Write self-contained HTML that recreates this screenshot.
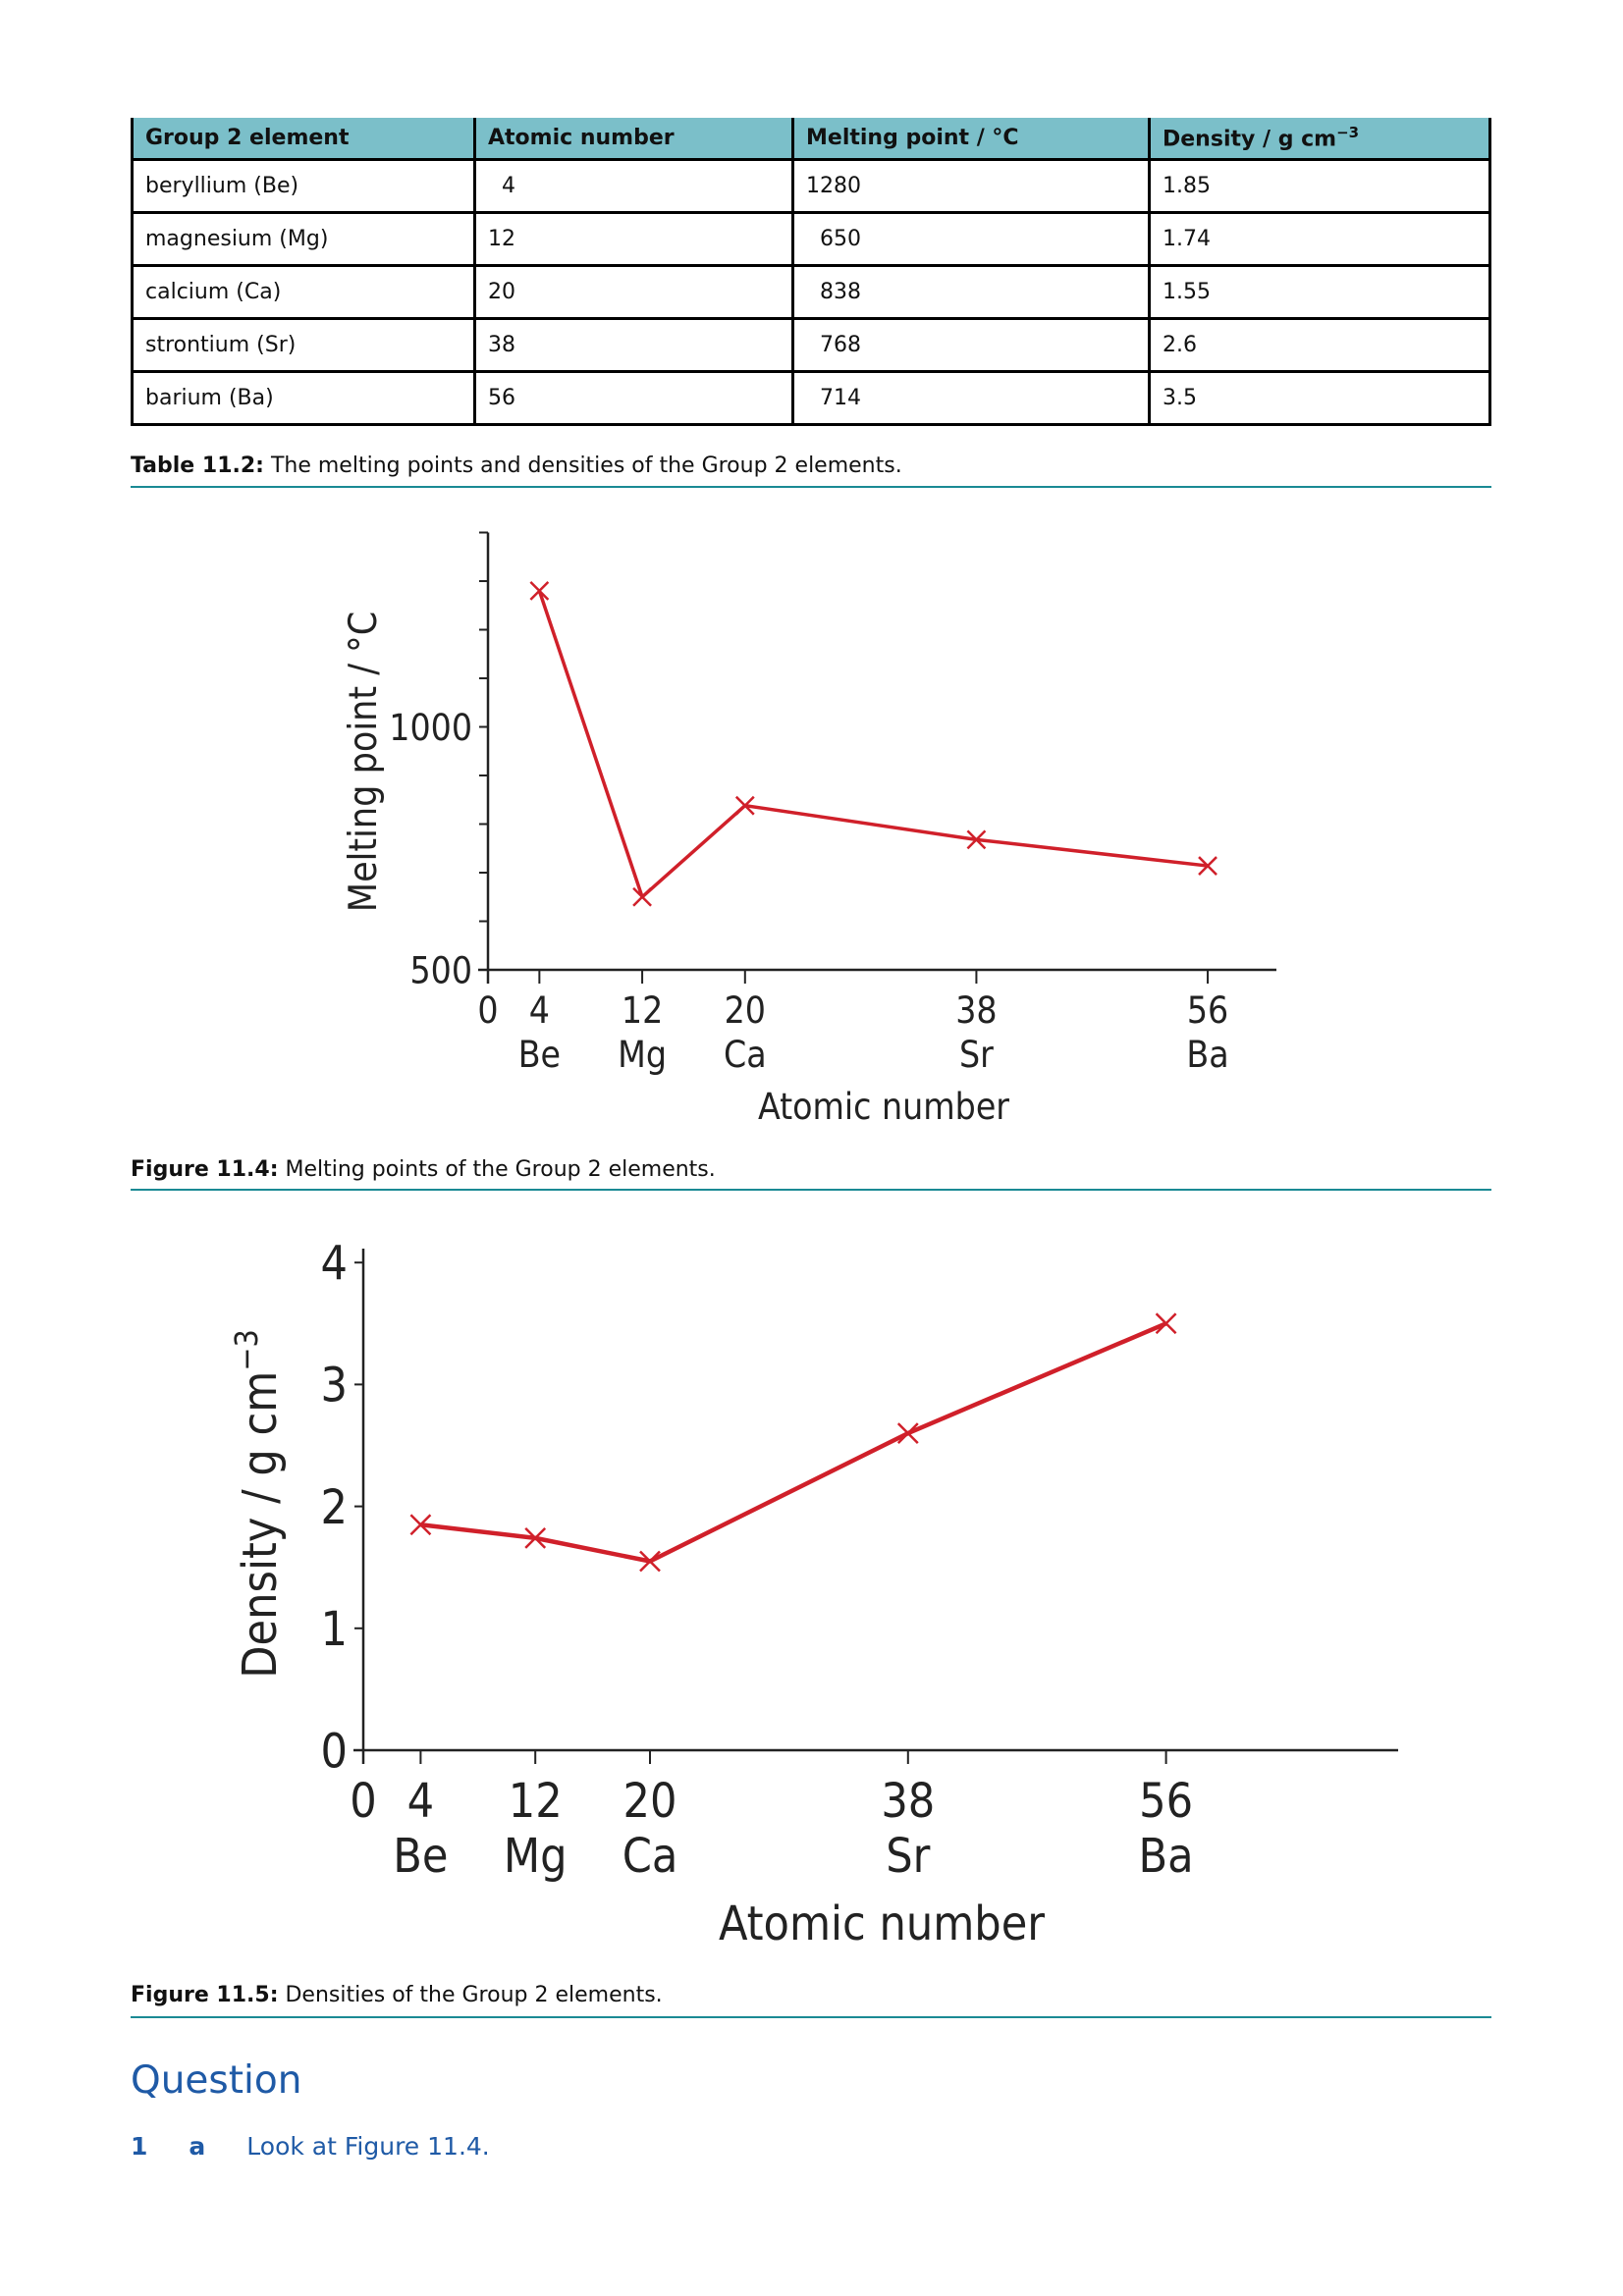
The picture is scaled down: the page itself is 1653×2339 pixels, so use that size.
<!DOCTYPE html>
<html><head><meta charset="utf-8">
<style>
html,body{margin:0;padding:0;background:#fff;}
body{width:1653px;height:2339px;position:relative;overflow:hidden;font-family:"DejaVu Sans","Liberation Sans",sans-serif;}
table{position:absolute;left:133px;top:120px;width:1386px;border-collapse:collapse;table-layout:fixed;font-size:22px;color:#111;}
td,th{border:3px solid #000;height:51px;padding:0 12px;text-align:left;vertical-align:middle;}
th{background:#7bbfc9;font-weight:bold;height:41px;border-top:none;}
.cap{position:absolute;left:133px;font-size:22px;color:#111;}
.rule{position:absolute;left:133px;width:1386px;height:2px;background:#1a8a94;}
svg{position:absolute;left:0;top:0;}
</style></head>
<body>
<table>
<colgroup><col style="width:349px"><col style="width:324px"><col style="width:363px"><col></colgroup>
<tr><th>Group 2 element</th><th>Atomic number</th><th>Melting point / °C</th><th>Density / g cm<sup style="font-size:15px">−3</sup></th></tr>
<tr><td>beryllium (Be)</td><td>&nbsp;&nbsp;4</td><td>1280</td><td>1.85</td></tr>
<tr><td>magnesium (Mg)</td><td>12</td><td>&nbsp;&nbsp;650</td><td>1.74</td></tr>
<tr><td>calcium (Ca)</td><td>20</td><td>&nbsp;&nbsp;838</td><td>1.55</td></tr>
<tr><td>strontium (Sr)</td><td>38</td><td>&nbsp;&nbsp;768</td><td>2.6</td></tr>
<tr><td>barium (Ba)</td><td>56</td><td>&nbsp;&nbsp;714</td><td>3.5</td></tr>
</table>
<div class="cap" style="top:462px"><b>Table 11.2:</b> The melting points and densities of the Group 2 elements.</div>
<div class="rule" style="top:495px"></div>

<svg id="chart" width="1653" height="2339"></svg>

<div class="cap" style="top:1179px"><b>Figure 11.4:</b> Melting points of the Group 2 elements.</div>
<div class="rule" style="top:1211px"></div>
<div class="cap" style="top:2020px"><b>Figure 11.5:</b> Densities of the Group 2 elements.</div>
<div class="rule" style="top:2054px"></div>
<div class="cap" style="top:2097px;font-size:39px;color:#1f5aa6">Question</div>
<div class="cap" style="top:2172px;font-size:25px;color:#1f5aa6"><b>1</b><b style="margin-left:42px">a</b><span style="margin-left:42px">Look at Figure 11.4.</span></div>

<script>
const atomicNumbers = [4, 12, 20, 38, 56];
const symbols = ['Be', 'Mg', 'Ca', 'Sr', 'Ba'];
const meltingPoints = [1280, 650, 838, 768, 714];
const densities = [1.85, 1.74, 1.55, 2.6, 3.5];
const mpTicks = [500, 1000];
const densTicks = [0, 1, 2, 3, 4];

const svg = document.getElementById('chart');
const NS = 'http://www.w3.org/2000/svg';
function mk(tag, attrs, txt) {
  const e = document.createElementNS(NS, tag);
  for (const k in attrs) e.setAttribute(k, attrs[k]);
  if (txt !== undefined) e.textContent = txt;
  svg.appendChild(e);
  return e;
}
const FONT = '"DejaVu Sans Condensed","Liberation Sans Narrow","Liberation Sans",sans-serif';

function drawChart(cfg) {
  const X = v => cfg.x0 + v * cfg.xs;
  const Y = v => cfg.y0 - (v - cfg.ymin) * cfg.ys;
  let e;
  e = mk('line', {x1: cfg.x0, y1: Math.min(cfg.yTop, Y(cfg.ymaxMinor)), x2: cfg.x0, y2: cfg.y0 + 14, stroke: '#222', 'stroke-width': 2.5});
  
  
  e = mk('line', {x1: cfg.x0 - 10, y1: cfg.y0, x2: cfg.xEnd, y2: cfg.y0, stroke: '#222', 'stroke-width': 2.5});
  
  
  for (let v = cfg.ymin; v <= cfg.ymaxMinor; v += cfg.minor) {
    e = mk('line', {x1: cfg.x0 - 9, y1: Y(v), x2: cfg.x0, y2: Y(v), stroke: '#222', 'stroke-width': 2});
    
    
  }
  cfg.yTicks.forEach(v => {
    e = mk('text', {x: cfg.x0 - 16, y: Y(v) + cfg.fs * 0.36, 'text-anchor': 'end', 'font-size': cfg.fs, 'font-family': FONT, fill: '#222'}, String(v));
    
    
  });
  e = mk('text', {x: cfg.x0, y: cfg.y0 + cfg.numOff, 'text-anchor': 'middle', 'font-size': cfg.fs, 'font-family': FONT, fill: '#222'}, '0');
  
  
  atomicNumbers.forEach((n, i) => {
    e = mk('line', {x1: X(n), y1: cfg.y0, x2: X(n), y2: cfg.y0 + 14, stroke: '#222', 'stroke-width': 2});
    
    
    e = mk('text', {x: X(n), y: cfg.y0 + cfg.numOff, 'text-anchor': 'middle', 'font-size': cfg.fs, 'font-family': FONT, fill: '#222'}, String(n));
    
    
    e = mk('text', {x: X(n), y: cfg.y0 + cfg.symOff, 'text-anchor': 'middle', 'font-size': cfg.fs, 'font-family': FONT, fill: '#222'}, symbols[i]);
    
    
  });
  e = mk('text', {x: cfg.xtX, y: cfg.xtY, 'text-anchor': 'middle', 'font-size': cfg.fs, 'font-family': FONT, fill: '#222'}, 'Atomic number');
  
  
  e = mk('text', {x: 0, y: 0, 'text-anchor': 'middle', 'font-size': cfg.yfs, 'font-family': FONT, fill: '#222', transform: `translate(${cfg.ytX},${cfg.ytY}) rotate(-90)`});
  e.innerHTML = cfg.ytitle;
  
  
  const pts = atomicNumbers.map((n, i) => X(n) + ',' + Y(cfg.vals[i])).join(' ');
  e = mk('polyline', {points: pts, fill: 'none', stroke: '#d0202a', 'stroke-width': cfg.lw, 'stroke-linejoin': 'round'});
  
  
  atomicNumbers.forEach((n, i) => {
    const cx = X(n), cy = Y(cfg.vals[i]), s = cfg.ms;
    e = mk('path', {d: `M${cx - s},${cy - s}L${cx + s},${cy + s}M${cx - s},${cy + s}L${cx + s},${cy - s}`, stroke: '#d0202a', 'stroke-width': 2.5, fill: 'none'});
    
    
  });
}

drawChart({x0: 497, xs: 13.09, y0: 988, ymin: 500, ys: 0.495, yTop: 548, xEnd: 1300,
  minor: 100, ymaxMinor: 1400, yTicks: mpTicks, vals: meltingPoints, fs: 37, yfs: 39, lw: 3.5, ms: 9,
  numOff: 54, symOff: 99, xtX: 900, xtY: 1140, ytX: 383, ytY: 776, ytitle: 'Melting point / °C'});
drawChart({x0: 370, xs: 14.6, y0: 1783, ymin: 0, ys: 124.2, yTop: 1272, xEnd: 1424,
  minor: 1, ymaxMinor: 4, yTicks: densTicks, vals: densities, fs: 48, yfs: 48, lw: 4.5, ms: 10,
  numOff: 68, symOff: 124, xtX: 898, xtY: 1976, ytX: 281, ytY: 1532, ytitle: 'Density / g cm<tspan baseline-shift="super" font-size="32">−3</tspan>'});
</script>
</body></html>
